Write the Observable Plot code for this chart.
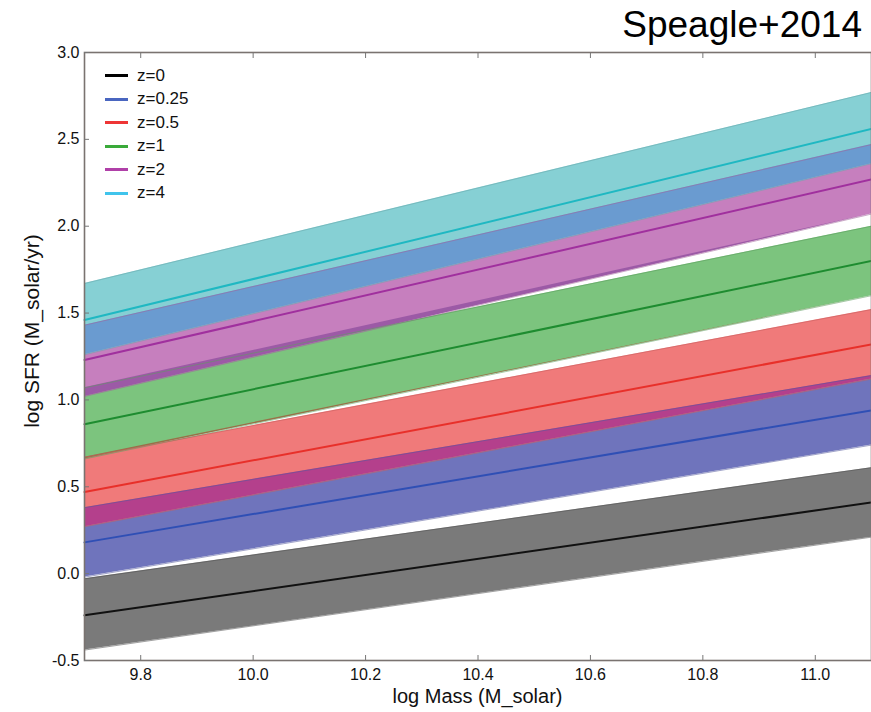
<!DOCTYPE html>
<html>
<head>
<meta charset="utf-8">
<script src="https://cdn.jsdelivr.net/npm/d3@7"></script>
<script src="https://cdn.jsdelivr.net/npm/@observablehq/plot@0.6"></script>
<style>
  html, body { margin: 0; padding: 0; background: #fff; }
  #wrap { position: relative; width: 871px; height: 712px; overflow: hidden; font-family: "Liberation Sans", Arial, sans-serif; }
  #title { position: absolute; right: 9px; top: 6px; font-size: 37px; line-height: 1; color: #000; white-space: nowrap; }
  #legend { position: absolute; left: 105px; top: 64px; font-size: 17px; color: #111; }
  #legend .row { height: 23.5px; display: flex; align-items: center; }
  #legend .sw { width: 23px; height: 3px; margin-right: 9px; }
  #xlabel { position: absolute; left: 84px; width: 787px; top: 685px; text-align: center; font-size: 20px; color: #111; }
  #ylabel { position: absolute; left: 32px; top: 331px; transform: translate(-50%, -50%) rotate(-90deg); font-size: 21px; color: #111; white-space: nowrap; }
</style>
</head>
<body>
<div id="wrap">
  <div id="chart"></div>
  <div id="title"></div>
  <div id="legend"></div>
  <div id="xlabel"></div>
  <div id="ylabel"></div>
</div>
<script>
// ---- data ----
const seriesLabels = ["z=0", "z=0.25", "z=0.5", "z=1", "z=2", "z=4"];
const massPoints = [9.7, 11.1];               // log Mass at left and right edges
const midAt97  = [-0.24, 0.18, 0.47, 0.86, 1.23, 1.46];
const midAt111 = [ 0.41, 0.94, 1.32, 1.80, 2.27, 2.56];
const loAt97   = [-0.44, -0.02, 0.27, 0.66, 1.02, 1.26];
const loAt111  = [ 0.21, 0.74, 1.12, 1.60, 2.07, 2.36];
const hiAt97   = [-0.03, 0.38, 0.67, 1.07, 1.43, 1.67];
const hiAt111  = [ 0.61, 1.14, 1.52, 2.00, 2.47, 2.77];
const xTicks = [9.8, 10.0, 10.2, 10.4, 10.6, 10.8, 11.0];
const yTicks = [-0.5, 0.0, 0.5, 1.0, 1.5, 2.0, 2.5, 3.0];

// ---- styles ----
const bandColors    = ["#7a7a7a", "#6f74bc", "#f07a7a", "#7cc47e", "#c67fbe", "#86d0d4"];
const edgeColors    = ["#555555", "#555a9c", "#c86060", "#5e9e60", "#a0649a", "#6aa8ac"];
const lineColors    = ["#111111", "#2f4fb5", "#e8302a", "#1e8c30", "#a0309e", "#1fb8c2"];
const legendColors  = ["#000000", "#4a66c0", "#ee3535", "#3aaa3a", "#b040a8", "#40c4ec"];
// colour where band i (lower) and band i+1 (upper) overlap
const overlapColors = [null, "#b4408c", "#9a7048", "#9c5aa6", "#6a9bd0"];

// tidy tables
const rows = [];
seriesLabels.forEach((s, i) => {
  const mids = [midAt97[i], midAt111[i]];
  const los = [loAt97[i], loAt111[i]];
  const his = [hiAt97[i], hiAt111[i]];
  massPoints.forEach((m, j) => {
    rows.push({series: s, mass: m, mid: mids[j], lo: los[j], hi: his[j],
               fill: bandColors[i], edge: edgeColors[i], line: lineColors[i]});
  });
});
const overlapRows = [];
for (let i = 0; i < seriesLabels.length - 1; i++) {
  if (!overlapColors[i]) continue;
  const upLo = [loAt97[i + 1], loAt111[i + 1]];
  const downHi = [hiAt97[i], hiAt111[i]];
  massPoints.forEach((m, j) => {
    overlapRows.push({pair: seriesLabels[i] + "/" + seriesLabels[i + 1], mass: m,
      y1: upLo[j], y2: Math.max(upLo[j], downHi[j]), fill: overlapColors[i]});
  });
}

const W = 871, H = 712;
const chart = Plot.plot({
  width: W, height: H,
  marginLeft: 84, marginRight: 0, marginTop: 52, marginBottom: 52,
  style: {fontFamily: "'Liberation Sans', Arial, sans-serif", fontSize: "16px", color: "#111", background: "#fff"},
  x: {domain: [9.7, 11.1]},
  y: {domain: [-0.5, 3.0]},
  marks: [
    Plot.areaY(rows, {x: "mass", y1: "lo", y2: "hi", z: "series", fill: "fill"}),
    Plot.areaY(overlapRows, {x: "mass", y1: "y1", y2: "y2", z: "pair", fill: "fill"}),
    Plot.lineY(rows, {x: "mass", y: "lo", z: "series", stroke: "edge", strokeWidth: 0.8, strokeOpacity: 0.7}),
    Plot.lineY(rows, {x: "mass", y: "hi", z: "series", stroke: "edge", strokeWidth: 0.8, strokeOpacity: 0.7}),
    Plot.lineY(rows, {x: "mass", y: "mid", z: "series", stroke: "line", strokeWidth: 2}),
    Plot.frame({stroke: "#7a7370", strokeWidth: 1.6}),
    Plot.axisX(xTicks, {anchor: "bottom", tickSize: -5, tickPadding: 13, tickFormat: d => d.toFixed(1),
      fontSize: 16, stroke: "#777", label: null}),
    Plot.axisX(xTicks, {anchor: "top", tickSize: -5, tickFormat: () => "", stroke: "#777", label: null}),
    Plot.axisY(yTicks, {anchor: "left", tickSize: -5, tickPadding: 10, tickFormat: d => d.toFixed(1),
      fontSize: 16, stroke: "#777", label: null})
  ]
});
document.getElementById("chart").appendChild(chart);

document.getElementById("title").textContent = "Speagle+2014";
document.getElementById("xlabel").textContent = "log Mass (M_solar)";
document.getElementById("ylabel").textContent = "log SFR (M_solar/yr)";
const leg = document.getElementById("legend");
seriesLabels.forEach((s, i) => {
  const r = document.createElement("div");
  r.className = "row";
  const sw = document.createElement("div");
  sw.className = "sw";
  sw.style.background = legendColors[i];
  const t = document.createElement("span");
  t.textContent = s;
  r.appendChild(sw); r.appendChild(t);
  leg.appendChild(r);
});
</script>
</body>
</html>
